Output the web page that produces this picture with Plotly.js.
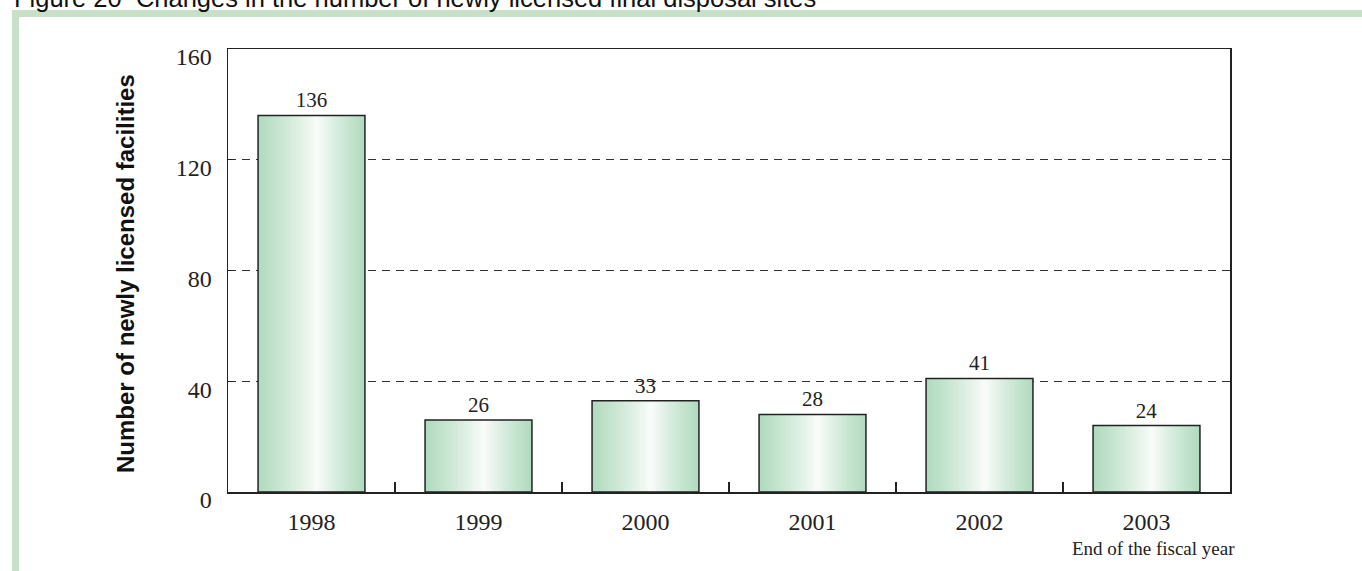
<!DOCTYPE html>
<html>
<head>
<meta charset="utf-8">
<script src="https://cdn.plot.ly/plotly-3.0.1.min.js"></script>
<style>
  html, body { margin: 0; padding: 0; background: #ffffff; }
  #chart { width: 1362px; height: 571px; }
</style>
</head>
<body>
<div id="chart"></div>
<script>
// Newly licensed final disposal sites per fiscal year
const years = ['1998', '1999', '2000', '2001', '2002', '2003'];
const facilities = [136, 26, 33, 28, 41, 24];
const yTicks = [0, 40, 80, 120, 160];

// Bar styling: horizontal green-white-green shading built from stacked strips
const BAR_W = 0.64;
const STRIPS = 40;
const EDGE = [176, 218, 190];
const LIGHT = [251, 253, 251];
const PEAK = 0.55;

function shade(u) {
  const t = u < PEAK ? (PEAK - u) / PEAK : (u - PEAK) / (1 - PEAK);
  const k = Math.pow(t, 0.85);
  const c = LIGHT.map((v, i) => Math.round(v + (EDGE[i] - v) * k));
  return 'rgb(' + c.join(',') + ')';
}

const traces = [];
const step = BAR_W / STRIPS;
for (let i = 0; i < STRIPS; i++) {
  // each strip runs from its left edge to the bar's right edge; later strips cover earlier ones
  traces.push({
    type: 'bar', x: years, y: facilities,
    offset: -BAR_W / 2 + i * step, width: BAR_W - i * step,
    marker: { color: shade((i + 0.5) / STRIPS), line: { width: 0 } },
    hoverinfo: 'skip', showlegend: false
  });
}
// outline and value labels
traces.push({
  type: 'bar', x: years, y: facilities,
  offset: -BAR_W / 2, width: BAR_W,
  marker: { color: 'rgba(0,0,0,0)', line: { color: '#222222', width: 1.5 } },
  text: facilities.map(String), textposition: 'outside', constraintext: 'none',
  textfont: { family: 'Liberation Serif', size: 21, color: '#222222' },
  cliponaxis: false, hoverinfo: 'skip', showlegend: false
});

// plot-area geometry in pixels, used to place the frame and notes
const L = 228, T = 49, W = 1002, H = 443;
const px = v => (v - L) / W;
const py = v => (T + H - v) / H;
const BAND = '#c8dfc8';

const layout = {
  width: 1362, height: 571,
  margin: { l: L, r: 1362 - L - W, t: T, b: 571 - T - H, pad: 0 },
  paper_bgcolor: '#ffffff', plot_bgcolor: '#ffffff',
  barmode: 'overlay', showlegend: false,
  xaxis: {
    type: 'category', tickson: 'boundaries',
    ticks: 'inside', ticklen: 10, tickwidth: 1.2, tickcolor: '#222222',
    showline: true, linecolor: '#222222', linewidth: 1.5, mirror: true,
    showgrid: false, zeroline: false, fixedrange: true,
    tickfont: { family: 'Liberation Serif', size: 24, color: '#222222' },
    ticklabelstandoff: 8
  },
  yaxis: {
    range: [0, 160], tickvals: yTicks, ticktext: yTicks.map(String),
    ticks: 'inside', ticklen: 5, tickwidth: 1.2, tickcolor: '#222222',
    showline: true, linecolor: '#222222', linewidth: 1.5, mirror: true,
    showgrid: true, gridcolor: '#333333', gridwidth: 1, griddash: '8px,6px',
    zeroline: false, fixedrange: true,
    tickfont: { family: 'Liberation Serif', size: 24, color: '#222222' },
    ticklabelstandoff: 10, ticklabelshift: 8
  },
  shapes: [
    { type: 'rect', xref: 'paper', yref: 'paper', layer: 'below',
      x0: px(12), x1: px(1362), y0: py(17), y1: py(10),
      fillcolor: BAND, line: { width: 0 } },
    { type: 'rect', xref: 'paper', yref: 'paper', layer: 'below',
      x0: px(12), x1: px(19), y0: py(571), y1: py(10),
      fillcolor: BAND, line: { width: 0 } }
  ],
  annotations: [
    { text: 'Figure 20  Changes in the number of newly licensed final disposal sites',
      xref: 'paper', yref: 'paper', x: px(12), y: py(-2),
      xanchor: 'left', yanchor: 'middle', showarrow: false,
      font: { family: 'Liberation Sans', size: 25.5, color: '#111111' } },
    { text: 'Number of newly licensed facilities',
      xref: 'paper', yref: 'paper', x: px(125), y: py(274),
      xanchor: 'center', yanchor: 'middle', textangle: -90, showarrow: false,
      font: { family: 'Liberation Sans', size: 24, color: '#111111', weight: 'bold' } },
    { text: 'End of the fiscal year',
      xref: 'paper', yref: 'paper', x: px(1153), y: py(548),
      xanchor: 'center', yanchor: 'middle', showarrow: false,
      font: { family: 'Liberation Serif', size: 19, color: '#222222' } }
  ]
};

Plotly.newPlot('chart', traces, layout, { displayModeBar: false, staticPlot: true });
</script>
</body>
</html>
